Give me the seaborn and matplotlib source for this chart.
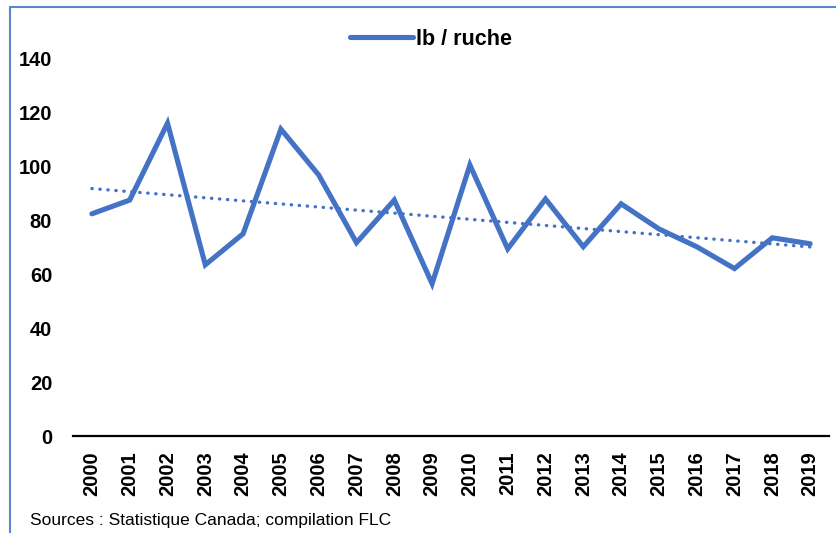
import numpy as np
import pandas as pd
import seaborn as sns
import matplotlib.pyplot as plt
from matplotlib.lines import Line2D

# valeurs (lb / ruche)
annees = list(range(2000, 2020))
lb_ruche = [82.4, 87.5, 116.0, 63.5, 75.0, 113.8, 96.8, 71.7, 87.5, 56.5,
            100.5, 69.4, 87.9, 70.2, 86.1, 76.8, 70.2, 62.1, 73.5, 71.3]
yticks = [0, 20, 40, 60, 80, 100, 120, 140]
source = "Sources : Statistique Canada; compilation FLC"

bleu = "#4472C4"

sns.set_style("white", {"text.color": "black", "xtick.color": "black", "ytick.color": "black"})
plt.rcParams['font.family'] = ['Liberation Sans', 'DejaVu Sans']

df = pd.DataFrame({"annee": annees, "lb / ruche": lb_ruche})

fig = plt.figure(figsize=(8.37, 5.33), dpi=100)
ax = fig.add_axes([73 / 837, 1 - 436 / 533, (829 - 73) / 837, (436 - 58.5) / 533])

# tendance linéaire pointillée
sns.regplot(data=df, x="annee", y="lb / ruche", ax=ax, scatter=False, ci=None,
            line_kws=dict(color=bleu, lw=2.4, linestyle=(0, (0.1, 2.3)),
                          dash_capstyle="round"))
sns.lineplot(data=df, x="annee", y="lb / ruche", ax=ax, color=bleu, lw=3.7,
             solid_joinstyle="miter", solid_capstyle="round")

ax.set_xlim(1999.5, 2019.5)
ax.set_ylim(0, 140)
ax.set_xticks(annees)
ax.set_xticklabels([str(a) for a in annees], rotation=90, fontsize=14.5, fontweight="bold")
ax.set_yticks(yticks)
ax.set_yticklabels([str(v) for v in yticks], fontsize=14.5, fontweight="bold")
ax.tick_params(axis="both", length=0, colors="black")
ax.tick_params(axis="y", pad=15)
ax.tick_params(axis="x", pad=11)
ax.set_xlabel("")
ax.set_ylabel("")
for s in ["top", "right", "left"]:
    ax.spines[s].set_visible(False)
ax.spines["bottom"].set_color("black")
ax.spines["bottom"].set_linewidth(1.6)

handle = Line2D([], [], color=bleu, lw=3.7, solid_capstyle="round")
fig.legend([handle], ["lb / ruche"], loc="center", bbox_to_anchor=(0.515, 0.926),
           frameon=False, handlelength=2.9, handletextpad=0.15,
           prop=dict(size=15.5, weight="bold"), labelcolor="black")

fig.text(30 / 837, 1 - 521 / 533, source, fontsize=12.5, va="center", ha="left",
         color="black")

# cadre bleu (bord gauche et haut)
fig.add_artist(Line2D([10 / 837, 10 / 837], [0, 1 - 7 / 533], color="#5B85CC", lw=1.5,
                      transform=fig.transFigure))
fig.add_artist(Line2D([10 / 837, 1], [1 - 7 / 533, 1 - 7 / 533], color="#5B85CC", lw=1.5,
                      transform=fig.transFigure))

fig.savefig("out.png", dpi=100)
